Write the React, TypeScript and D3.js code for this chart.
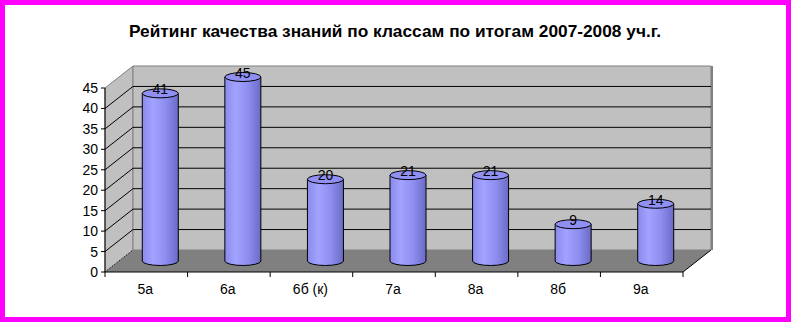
import React from "react";
import * as d3 from "d3";

const title = "Рейтинг качества знаний по классам по итогам 2007-2008 уч.г.";
const categories = ["5а", "6а", "6б (к)", "7а", "8а", "8б", "9а"];
const values = [41, 45, 20, 21, 21, 9, 14];
const yTicks = [0, 5, 10, 15, 20, 25, 30, 35, 40, 45];

const W = 791;
const H = 322;
const DX = 28;
const DY = -22;

export default function App() {
  const x = d3.scaleBand<string>().domain(categories).range([105, 683]).padding(0);
  const y = d3.scaleLinear().domain([0, 45]).range([272, 88]);
  const bw = x.bandwidth();
  const x0 = 105;
  const x1 = 683;
  const rx = 18;
  const ry = 4.5;

  return (
    <svg
      width={W}
      height={H}
      style={{ position: "absolute", left: 0, top: 0 }}
      fontFamily="Arial, 'Liberation Sans', sans-serif"
    >
      <defs>
        <linearGradient id="cyl" x1="0" x2="1" y1="0" y2="0">
          <stop offset="0" stopColor="#8a8aec" />
          <stop offset="0.3" stopColor="#a2a2ff" />
          <stop offset="0.65" stopColor="#8e8ef0" />
          <stop offset="1" stopColor="#6a6ac6" />
        </linearGradient>
      </defs>
      <rect x={2.5} y={2.5} width={W - 5} height={H - 5} fill="#ffffff" stroke="#ff00ff" strokeWidth={5} />
      <text x={395} y={37} textAnchor="middle" fontSize={17} fontWeight="bold" fill="#000" textLength={532} lengthAdjust="spacingAndGlyphs">
        {title}
      </text>

      {/* side wall */}
      <polygon
        points={`${x0},${y(0)} ${x0},${y(45)} ${x0 + DX},${y(45) + DY} ${x0 + DX},${y(0) + DY}`}
        fill="#c0c0c0"
        stroke="#808080"
      />
      {/* back wall */}
      <polygon
        points={`${x0 + DX},${y(0) + DY} ${x0 + DX},${y(45) + DY} ${x1 + DX},${y(45) + DY} ${x1 + DX},${y(0) + DY}`}
        fill="#c0c0c0"
        stroke="#808080"
      />
      {/* floor */}
      <polygon
        points={`${x0},${y(0)} ${x0 + DX},${y(0) + DY} ${x1 + DX},${y(0) + DY} ${x1},${y(0)}`}
        fill="#808080"
        stroke="none"
      />
      {/* gridlines */}
      {yTicks
        .filter((t) => t > 0 && t < 45)
        .map((t) => (
          <g key={"g" + t}>
            <line x1={x0} y1={y(t)} x2={x0 + DX} y2={y(t) + DY} stroke="#000" strokeWidth={1} />
            <line x1={x0 + DX} y1={y(t) + DY} x2={x1 + DX} y2={y(t) + DY} stroke="#000" strokeWidth={1} />
          </g>
        ))}
      <line x1={x0} y1={y(0)} x2={x0 + DX} y2={y(0) + DY} stroke="#000" strokeWidth={1} strokeDasharray="1,2" />
      {/* back wall right edge */}
      <line x1={x1 + DX + 1} y1={y(45) + DY} x2={x1 + DX + 1} y2={y(0) + DY} stroke="#808080" strokeWidth={2} />

      {/* y axis */}
      <line x1={x0} y1={y(0)} x2={x0} y2={y(45)} stroke="#000" />
      {yTicks.map((t) => (
        <g key={"y" + t}>
          <line x1={x0 - 4} y1={y(t)} x2={x0} y2={y(t)} stroke="#000" />
          <text x={98} y={y(t) + 5} textAnchor="end" fontSize={14} fill="#000">
            {t}
          </text>
        </g>
      ))}

      {/* cylinders */}
      {categories.map((c, i) => {
        const cx = (x(c) as number) + bw / 2 + DX / 2;
        const yb = y(0) + DY / 2;
        const yt = y(values[i]) + DY / 2;
        return (
          <g key={c}>
            <path
              d={`M${cx - rx},${yt} L${cx - rx},${yb} A${rx},${ry} 0 0 0 ${cx + rx},${yb} L${cx + rx},${yt} Z`}
              fill="url(#cyl)"
              stroke="#000"
              strokeWidth={1}
            />
            <ellipse cx={cx} cy={yt} rx={rx} ry={ry} fill="#9090f4" stroke="#000" strokeWidth={1} />
            <text x={cx} y={yt + 1} textAnchor="middle" fontSize={14} fill="#000">
              {values[i]}
            </text>
          </g>
        );
      })}

      {/* floor front & right edges */}
      <line x1={x0} y1={y(0)} x2={x1} y2={y(0)} stroke="#000" />
      <line x1={x1} y1={y(0)} x2={x1 + DX} y2={y(0) + DY} stroke="#000" />

      {/* x axis */}
      {d3.range(categories.length + 1).map((i) => (
        <line key={"xt" + i} x1={x0 + i * bw} y1={y(0)} x2={x0 + i * bw} y2={y(0) + 5} stroke="#000" />
      ))}
      {categories.map((c) => (
        <text key={"xl" + c} x={(x(c) as number) + bw / 2 - 1} y={294} textAnchor="middle" fontSize={14} fill="#000">
          {c}
        </text>
      ))}
    </svg>
  );
}
